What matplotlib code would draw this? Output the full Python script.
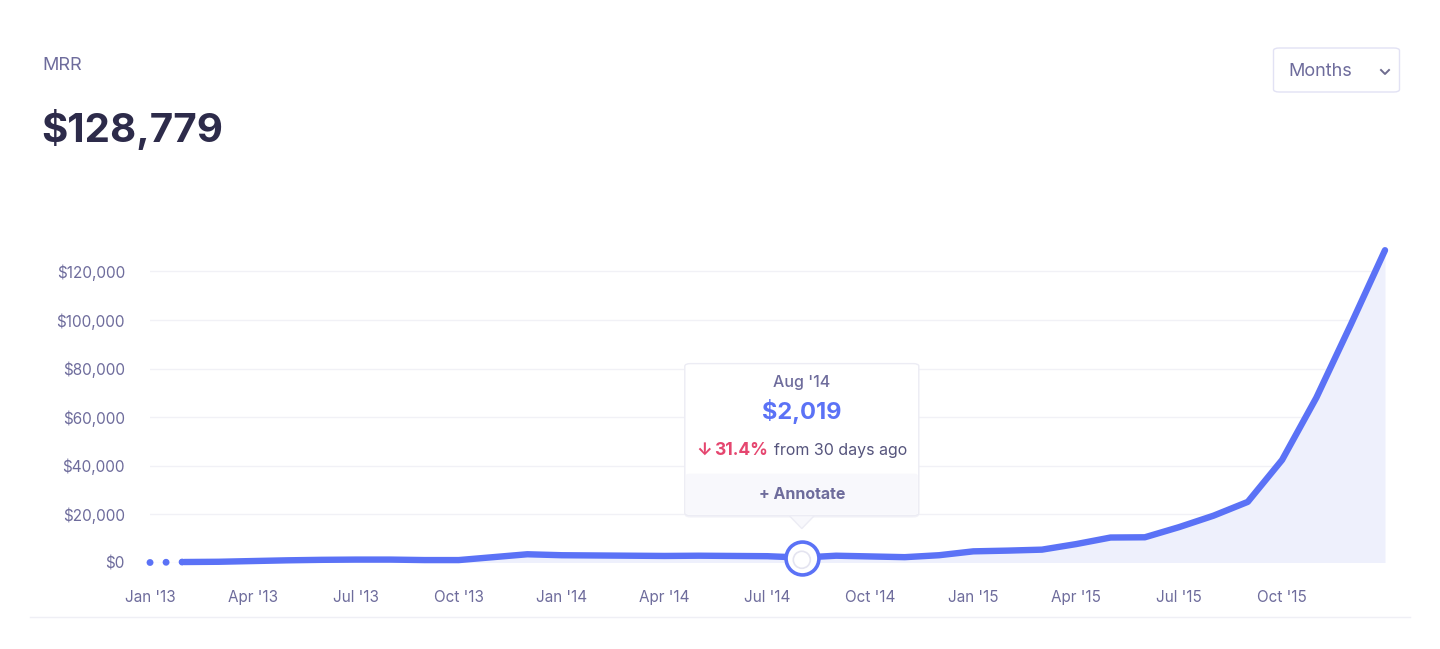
import matplotlib.pyplot as plt
import numpy as np
from matplotlib.patches import FancyBboxPatch, Polygon
from matplotlib.lines import Line2D
from matplotlib.ticker import FuncFormatter

plt.rcParams['font.family'] = ['Inter', 'DejaVu Sans']

# monthly MRR, Jan '13 .. Jan '16
months = ["Jan '13", "Feb '13", "Mar '13", "Apr '13", "May '13", "Jun '13",
          "Jul '13", "Aug '13", "Sep '13", "Oct '13", "Nov '13", "Dec '13",
          "Jan '14", "Feb '14", "Mar '14", "Apr '14", "May '14", "Jun '14",
          "Jul '14", "Aug '14", "Sep '14", "Oct '14", "Nov '14", "Dec '14",
          "Jan '15", "Feb '15", "Mar '15", "Apr '15", "May '15", "Jun '15",
          "Jul '15", "Aug '15", "Sep '15", "Oct '15", "Nov '15", "Dec '15",
          "Jan '16"]
mrr = [0, 200, 300, 600, 900, 1100, 1200, 1200, 1000, 1000, 2200, 3400,
       3000, 2900, 2800, 2700, 2800, 2700, 2600, 2019, 2800, 2500, 2200, 3000,
       4600, 4900, 5300, 7600, 10300, 10400, 14600, 19300, 25000, 42300,
       68000, 98000, 128779]
tick_months = list(range(0, 36, 3))
y_ticks = [0, 20000, 40000, 60000, 80000, 100000, 120000]
hover_idx = 19
hover_change = "31.4%"

W, H = 1440, 649
LINE = '#5B72F6'
LABEL = '#6E6C9C'
DARK = '#2D2B4A'
RED = '#E5466F'


def fp(x, y):
    return x / W, 1 - y / H


fig = plt.figure(figsize=(W / 100, H / 100), dpi=100)
fig.patch.set_facecolor('white')

y0 = 562.5
pxk = 2.425  # pixels per $1000
top = 135
ax = fig.add_axes([150 / W, (H - y0) / H, (1385 - 150) / W, top * pxk / H])
x = np.arange(len(mrr))
ax.set_xlim(0, len(mrr) - 1)
ax.set_ylim(0, top * 1000)

ax.fill_between(x[1:], mrr[1:], 0, color='#EEF0FC', lw=0, zorder=1)
ax.plot(x[:2], mrr[:2], color=LINE, lw=5, dash_capstyle='round',
        linestyle=(0, (0.01, 2.3)), clip_on=False, zorder=3)
ax.plot(x[1:], mrr[1:], color=LINE, lw=4.6, solid_capstyle='round',
        solid_joinstyle='round', clip_on=False, zorder=3)
ax.scatter([x[hover_idx]], [mrr[hover_idx]], s=560, facecolor='white',
           edgecolor=LINE, linewidth=2.6, zorder=5, clip_on=False)
ax.scatter([x[hover_idx]], [mrr[hover_idx] - 900], s=150, facecolor='none',
           edgecolor='#E4E4F0', linewidth=1.2, zorder=6, clip_on=False)

ax.set_yticks(y_ticks)
ax.yaxis.set_major_formatter(FuncFormatter(lambda v, p: f"${v:,.0f}"))
ax.set_xticks(tick_months)
ax.set_xticklabels([months[i] for i in tick_months])
ax.grid(axis='y', color='#F1F1F6', lw=1)
ax.set_axisbelow(True)
ax.tick_params(length=0, labelsize=11, labelcolor=LABEL)
ax.tick_params(axis='y', pad=18)
ax.tick_params(axis='x', pad=20)
for s in ax.spines.values():
    s.set_visible(False)

# header
fig.text(*fp(42, 65), 'MRR', fontsize=13, color=LABEL, va='center')
fig.text(*fp(41, 129), f"${mrr[-1]:,}", fontsize=29, color=DARK,
         fontweight='bold', va='center')

# dropdown
fig.patches.append(FancyBboxPatch(fp(1273.5, 92), 126 / W, 44 / H,
                                  boxstyle='round,pad=0,rounding_size=0.004',
                                  transform=fig.transFigure, facecolor='white',
                                  edgecolor='#E2E2F4', lw=1))
fig.text(*fp(1288, 71), 'Months', fontsize=13, color=LABEL, va='center')
fig.lines.append(Line2D([1381 / W, 1385 / W, 1389 / W],
                        [1 - 70 / H, 1 - 74 / H, 1 - 70 / H],
                        transform=fig.transFigure, color='#6E6C8E', lw=1.4))

# bottom divider
fig.lines.append(Line2D([30 / W, 1410 / W], [1 - 617 / H, 1 - 617 / H],
                        transform=fig.transFigure, color='#EFEFF5', lw=1))

# tooltip anchored to hovered point
fig.canvas.draw()
hx, hy = ax.transData.transform((x[hover_idx], mrr[hover_idx]))
cx = hx
bx0 = cx - 117
by_bot = hy + 42
by_top = by_bot + 152
shadow = FancyBboxPatch((bx0 / W, (by_bot - 2) / H), 234 / W, 154 / H,
                        boxstyle='round,pad=0,rounding_size=0.004',
                        transform=fig.transFigure, facecolor='#F3F3F8',
                        edgecolor='none', zorder=9)
box = FancyBboxPatch((bx0 / W, by_bot / H), 234 / W, 152 / H,
                     boxstyle='round,pad=0,rounding_size=0.004',
                     transform=fig.transFigure, facecolor='white',
                     edgecolor='#ECECF4', lw=1, zorder=10)
foot = FancyBboxPatch(((bx0 + 1) / W, (by_bot + 1) / H), 232 / W, 41 / H,
                      boxstyle='round,pad=0,rounding_size=0.003',
                      transform=fig.transFigure, facecolor='#F8F8FC',
                      edgecolor='none', zorder=11)
tri = Polygon([((cx - 13) / W, (by_bot + 0.5) / H), ((cx + 13) / W, (by_bot + 0.5) / H),
               (cx / W, (by_bot - 13) / H)], closed=True, transform=fig.transFigure,
              facecolor='#F8F8FC', edgecolor='#ECECF4', lw=1, zorder=9)
for p in (shadow, tri, box, foot):
    fig.patches.append(p)

fig.text(cx / W, (by_top - 19) / H, months[hover_idx], fontsize=11.5, color=LABEL,
         ha='center', va='center', fontweight='medium', zorder=12)
fig.text(cx / W, (by_top - 48) / H, f"${mrr[hover_idx]:,}", fontsize=17, color=LINE,
         ha='center', va='center', fontweight='bold', zorder=12)
fig.text((cx - 106) / W, (by_top - 87) / H, '↓', fontsize=12.5, color=RED,
         ha='left', va='center', fontweight='bold', zorder=12)
fig.text((cx - 34) / W, (by_top - 87) / H, hover_change, fontsize=12.5, color=RED,
         ha='right', va='center', fontweight='bold', zorder=12)
fig.text((cx - 28) / W, (by_top - 87) / H, 'from 30 days ago', fontsize=11.5,
         color='#55547C', ha='left', va='center', zorder=12)
fig.text(cx / W, (by_bot + 21) / H, '+ Annotate', fontsize=11.5, color=LABEL,
         ha='center', va='center', fontweight='bold', zorder=12)

fig.savefig('out.png', dpi=100, facecolor='white')
